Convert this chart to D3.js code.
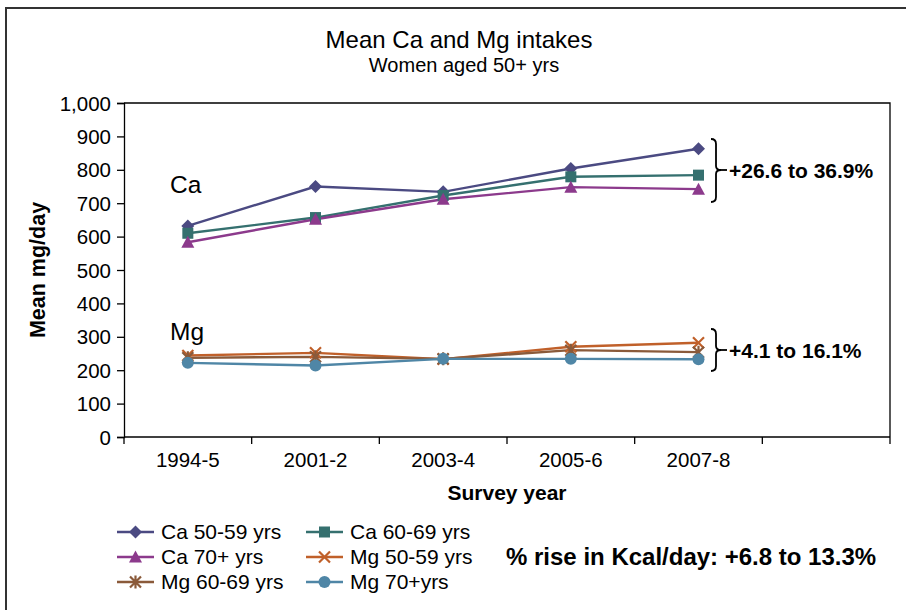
<!DOCTYPE html>
<html><head><meta charset="utf-8">
<script src="https://cdn.jsdelivr.net/npm/d3@7"></script>
<style>body{margin:0;background:#fff}svg{font-family:"Liberation Sans",Arial,sans-serif}</style>
</head><body><svg id="c" width="906" height="610"></svg>
<script>
const categories = ["1994-5","2001-2","2003-4","2005-6","2007-8",""];
const caLabels = ["Ca 50-59 yrs","Ca 60-69 yrs","Ca 70+ yrs"];
const mgLabels = ["Mg 50-59 yrs","Mg 60-69 yrs","Mg 70+yrs"];
const ca5059 = [632, 750, 734, 804, 863];
const ca6069 = [610, 657, 723, 779, 784];
const ca70   = [583, 652, 712, 748, 742];
const mg5059 = [244, 252, 233, 270, 282];
const mg6069 = [237, 240, 234, 260, 254];
const mg70   = [222, 214, 234, 234, 233];
const yTicks = [0,100,200,300,400,500,600,700,800,900,1000];

const series = [
  {name: caLabels[0], values: ca5059, color:"#4b4a82", sym:"diamond"},
  {name: caLabels[1], values: ca6069, color:"#35706f", sym:"square"},
  {name: caLabels[2], values: ca70,   color:"#8c3a8c", sym:"triangle"},
  {name: mgLabels[0], values: mg5059, color:"#c0602a", sym:"x"},
  {name: mgLabels[1], values: mg6069, color:"#8a5a3a", sym:"star"},
  {name: mgLabels[2], values: mg70,   color:"#4f86a6", sym:"circle"}
];

const svg = d3.select("#c");
svg.append("rect").attr("x",6).attr("y",8).attr("width",920).attr("height",620)
  .attr("fill","none").attr("stroke","#333").attr("stroke-width",2);

const L=124, R=890, T=103, B=437;
const x = d3.scaleBand().domain(categories.map((c,i)=>i)).range([L,R]);
const y = d3.scaleLinear().domain([0,1000]).range([B,T]);

svg.append("path").attr("d",`M${L},${T}H${R}V${B}`).attr("fill","none").attr("stroke","#000").attr("stroke-width",1.3);

const yAxis = svg.append("g").attr("transform",`translate(${L},0)`)
  .call(d3.axisLeft(y).tickValues(yTicks).tickSize(7).tickPadding(6).tickFormat(d3.format(",")));
const xAxis = svg.append("g").attr("transform",`translate(0,${B})`)
  .call(d3.axisBottom(x).tickSize(0).tickPadding(15).tickFormat(i=>categories[i]));
const bounds = categories.map((c,i)=>x(i)).concat([R]);
svg.append("g").selectAll("line").data(bounds).join("line")
  .attr("x1",d=>d).attr("x2",d=>d).attr("y1",B).attr("y2",B+7).attr("stroke","#000").attr("stroke-width",1.3);
[yAxis,xAxis].forEach(g=>{
  g.selectAll("text").attr("font-size",20.5).attr("fill","#000").attr("font-family","Liberation Sans, Arial, sans-serif");
  g.selectAll("path,line").attr("stroke","#000").attr("stroke-width",1.3);
});
yAxis.selectAll("text").attr("dy","0.35em");
xAxis.select(".domain").attr("d",`M${L},0H${R}`);

const cx = i => x(i) + x.bandwidth()/2;
const line = d3.line().x((d,i)=>cx(i)).y(d=>y(d));

function marker(g, sym, color, px, py){
  if(sym==="diamond") g.append("path").attr("d",`M${px},${py-6.5}L${px+6.5},${py}L${px},${py+6.5}L${px-6.5},${py}Z`).attr("fill",color);
  else if(sym==="square") g.append("rect").attr("x",px-5.5).attr("y",py-5.5).attr("width",11).attr("height",11).attr("fill",color);
  else if(sym==="triangle") g.append("path").attr("d",`M${px},${py-6.5}L${px+6.5},${py+5.5}L${px-6.5},${py+5.5}Z`).attr("fill",color);
  else if(sym==="circle") g.append("circle").attr("cx",px).attr("cy",py).attr("r",6).attr("fill",color);
  else if(sym==="x") g.append("path").attr("d",`M${px-5.5},${py-5.5}L${px+5.5},${py+5.5}M${px+5.5},${py-5.5}L${px-5.5},${py+5.5}`).attr("stroke",color).attr("stroke-width",2.2);
  else if(sym==="star") g.append("path").attr("d",`M${px-5.5},${py-5.5}L${px+5.5},${py+5.5}M${px+5.5},${py-5.5}L${px-5.5},${py+5.5}M${px},${py-6.5}V${py+6.5}`).attr("stroke",color).attr("stroke-width",2.2);
}

const plot = svg.append("g");
series.forEach(s=>{
  plot.append("path").attr("d",line(s.values)).attr("fill","none").attr("stroke",s.color).attr("stroke-width",2.4);
});
series.forEach(s=>{
  const g = plot.append("g");
  s.values.forEach((v,i)=>marker(g,s.sym,s.color,cx(i),y(v)));
});

svg.append("text").attr("x",459).attr("y",48).attr("text-anchor","middle").attr("font-size",24).text("Mean Ca and Mg intakes");
svg.append("text").attr("x",464).attr("y",72).attr("text-anchor","middle").attr("font-size",20).text("Women aged 50+ yrs");
svg.append("text").attr("transform",`translate(45,270) rotate(-90)`).attr("text-anchor","middle")
  .attr("font-size",21.5).attr("font-weight","bold").text("Mean mg/day");
svg.append("text").attr("x",507).attr("y",500).attr("text-anchor","middle")
  .attr("font-size",21).attr("font-weight","bold").text("Survey year");

svg.append("text").attr("x",170).attr("y",193).attr("font-size",24.5).text("Ca");
svg.append("text").attr("x",170).attr("y",340).attr("font-size",24.5).text("Mg");

function brace(yTop, yBot, yMid, label, ty){
  const xb=711, xe=716;
  svg.append("path").attr("d",
    `M${xb},${yTop} Q${xe},${yTop} ${xe},${yTop+5} V${yMid-4} Q${xe},${yMid} ${xe+5},${yMid} Q${xe},${yMid} ${xe},${yMid+4} V${yBot-5} Q${xe},${yBot} ${xb},${yBot}`)
    .attr("fill","none").attr("stroke","#000").attr("stroke-width",1.8);
  svg.append("line").attr("x1",xe+5).attr("x2",xe+11).attr("y1",yMid).attr("y2",yMid).attr("stroke","#000").attr("stroke-width",1.8);
  svg.append("text").attr("x",729).attr("y",ty).attr("font-size",21).attr("font-weight","bold").text(label);
}
brace(139, 202, 170, "+26.6 to 36.9%", 178);
brace(329, 371, 350, "+4.1 to 16.1%", 358);

const lg = svg.append("g");
series.forEach((s,i)=>{
  const col = i%2, row = Math.floor(i/2);
  const lx = col? 306 : 117, ly = 532 + row*25;
  lg.append("line").attr("x1",lx).attr("x2",lx+37).attr("y1",ly).attr("y2",ly).attr("stroke",s.color).attr("stroke-width",2.4);
  marker(lg,s.sym,s.color,lx+18.5,ly);
  lg.append("text").attr("x",lx+44).attr("y",ly+7).attr("font-size",21).text(s.name);
});

svg.append("text").attr("x",506).attr("y",565).attr("font-size",24).attr("font-weight","bold").text("% rise in Kcal/day: +6.8 to 13.3%");
</script></body></html>
